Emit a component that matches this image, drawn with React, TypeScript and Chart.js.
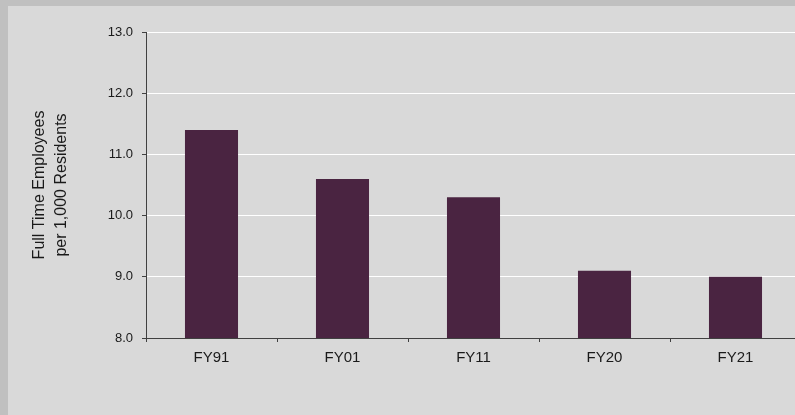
import React, { useEffect, useRef } from "react";
import { Chart, registerables } from "chart.js";

Chart.register(...registerables);

const categories: string[] = ["FY91", "FY01", "FY11", "FY20", "FY21"];
const employeesPer1000: number[] = [11.4, 10.6, 10.3, 9.1, 9.0];
const yMin = 8;
const yMax = 13;
const yStep = 1;
const titleLines: string[] = ["Full Time Employees", "per 1,000 Residents"];

export default function App() {
  const ref = useRef<HTMLCanvasElement | null>(null);

  useEffect(() => {
    if (!ref.current) return;
    const chart = new Chart(ref.current, {
      type: "bar",
      data: {
        labels: categories,
        datasets: [
          {
            data: employeesPer1000,
            backgroundColor: "#4a2441",
            borderWidth: 0,
            categoryPercentage: 1,
            barPercentage: 0.405,
          },
        ],
      },
      options: {
        responsive: false,
        animation: false,
        devicePixelRatio: 1,
        layout: { padding: { top: 32, right: 9, bottom: 0, left: 0 } },
        plugins: {
          legend: { display: false },
          tooltip: { enabled: false },
          title: { display: false },
        },
        scales: {
          x: {
            offset: true,
            grid: {
              offset: true,
              drawOnChartArea: false,
              drawTicks: true,
              tickLength: 4,
              tickColor: "#404040",
              color: "#404040",
            },
            border: { color: "#404040", width: 1 },
            ticks: {
              color: "#1a1a1a",
              padding: 7,
              font: { family: "'Liberation Sans', Arial, sans-serif", size: 15 },
            },
            afterFit: (s: any) => {
              s.height = 77;
            },
          },
          y: {
            min: yMin,
            max: yMax,
            grid: {
              color: "#ffffff",
              lineWidth: 1,
              tickLength: 4,
              tickColor: "#404040",
            },
            border: { color: "#404040", width: 1 },
            ticks: {
              stepSize: yStep,
              color: "#1a1a1a",
              padding: 9,
              font: { family: "'Liberation Sans', Arial, sans-serif", size: 13 },
              callback: (v: any) => Number(v).toFixed(1),
            },
            title: {
              display: true,
              text: titleLines,
              color: "#1a1a1a",
              padding: { top: 29, bottom: 0 },
              font: { family: "'Liberation Sans', Arial, sans-serif", size: 16, lineHeight: "21.6px" },
            },
            afterFit: (s: any) => {
              s.width = 146;
            },
          },
        },
      },
    });
    return () => chart.destroy();
  }, []);

  return (
    <div style={{ position: "fixed", left: 0, top: 0, right: 0, bottom: 0, background: "#c0c0c0", overflow: "hidden" }}>
      <div style={{ position: "absolute", left: 8, top: 6, right: 0, bottom: 0, background: "#d9d9d9" }} />
      <canvas ref={ref} width={810} height={415} style={{ position: "absolute", left: 0, top: 0, width: 810, height: 415 }} />
    </div>
  );
}
